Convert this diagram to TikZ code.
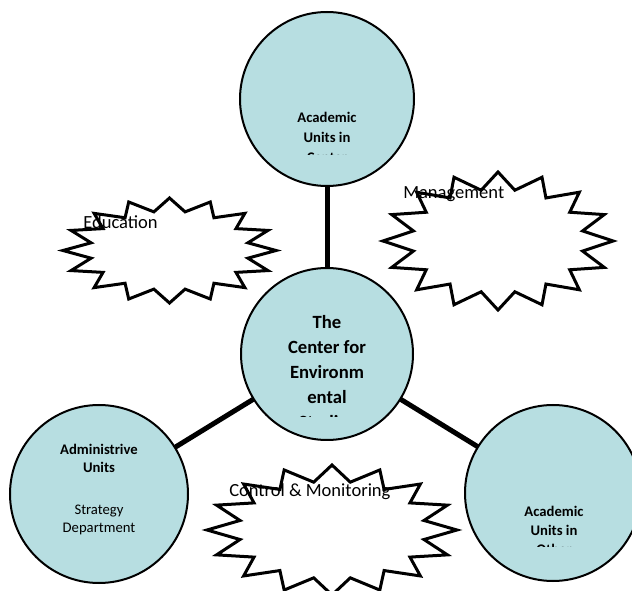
\documentclass[tikz,border=0pt]{standalone}
\usepackage{fontspec}
\setmainfont{Carlito}
\usepackage{tikz}
\usetikzlibrary{shapes.geometric,backgrounds}
\definecolor{unitblue}{HTML}{B7DEE1}

\begin{document}
\begin{tikzpicture}[x=0.75pt, y=-0.75pt,
  unit/.style={circle, draw, line width=1.5pt, fill=unitblue, inner sep=0pt},
  burst/.style={star, star points=16, star point ratio=1.333, draw, line width=2.25pt, fill=white, inner sep=0pt},
  link/.style={line width=3.75pt},
  ctxt/.style={align=center, inner sep=0pt, font=\bfseries\fontsize{11}{15}\selectfont},
  lbl/.style={anchor=base west, inner sep=0pt, font=\fontsize{13.9}{16}\selectfont}]
\clip (0,0) rectangle (632,591);
% units
\node[unit, minimum size=130.5pt] (top) at (327,99) {};
\node[unit, minimum size=129pt] (hub) at (327,354) {};
\node[unit, minimum size=133.5pt] (admin) at (99,494) {};
\node[unit, minimum size=132pt] (other) at (553,493) {};
\begin{scope}[on background layer]
\draw[link] (hub.center) -- (top.center);
\draw[link] (hub.center) -- (admin.center);
\draw[link] (hub.center) -- (other.center);
\end{scope}
% bursts
\node[burst, minimum size=78.75pt, xscale=2.03] (edu) at (169.5,250.5) {};
\node[burst, minimum size=103.5pt, xscale=1.667] (mgmt) at (498,241) {};
\node[burst, minimum size=97.5pt, xscale=1.923] (ctrl) at (332,530) {};
% texts
\begin{scope}
\clip (240,0) rectangle (415,154.5);
\node[ctxt] (topTxt) at (327,137) {Academic\\Units in\\Center};
\end{scope}
\begin{scope}
\clip (238,268) rectangle (416,417);
\node[ctxt, font=\bfseries\fontsize{14}{18.75}\selectfont] (hubTxt) at (327,372) {The\\Center for\\Environm\\ental\\Studies};
\end{scope}
\begin{scope}
\clip (465,400) rectangle (632,546);
\node[ctxt, font=\bfseries\fontsize{11}{14.25}\selectfont] (otherTxt) at (554,530) {Academic\\Units in\\Other};
\end{scope}
\node[ctxt, font=\fontsize{11}{13.5}\selectfont] (adminTxt) at (99,490) {\textbf{Administrive}\\\textbf{Units}\\[18pt]Strategy\\Department};
\node[lbl] (eduTxt) at (83,229) {Education};
\node[lbl] (mgmtTxt) at (403,199) {Management};
\node[lbl] (ctrlTxt) at (229,496) {Control \& Monitoring};
\end{tikzpicture}
\end{document}
